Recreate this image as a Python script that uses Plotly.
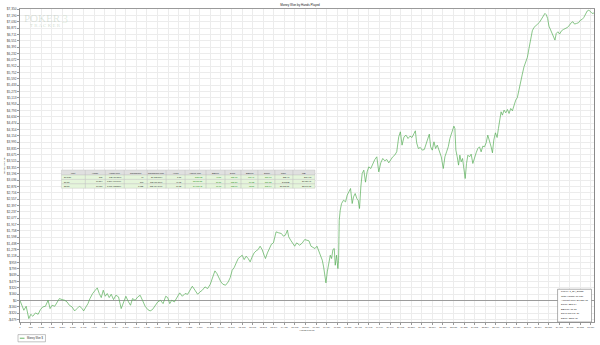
import plotly.graph_objects as go

# ---------------- data ----------------
hands = [1, 119, 210, 337, 482, 590, 699, 844, 990, 1117, 1243, 1389, 1534, 1643, 1751, 1897,
         2024, 2150, 2296, 2441, 2568, 2695, 2840, 2985, 3112, 3239, 3348, 3475, 3602, 3711,
         3819, 3964, 4110, 4218, 4327, 4436, 4545, 4654, 4763, 4871, 4980, 5107, 5234, 5379,
         5524, 5652, 5779, 5924, 6032, 6141, 6286, 6432, 6559, 6685, 6831, 6976, 7103, 7230,
         7375, 7520, 7665, 7810, 7955, 8064, 8173, 8282, 8427, 8572, 8717, 8862, 9007, 9153,
         9280, 9406, 9552, 9697, 9824, 9951, 10096, 10241, 10386, 10531, 10640, 10749, 10858,
         10967, 11075, 11221, 11366, 11475, 11583, 11692, 11801, 11910, 12019, 12128, 12236,
         12345, 12454, 12563, 12672, 12781, 12890, 12998, 13107, 13216, 13325, 13398, 13506,
         13615, 13724, 13833, 13905, 13978, 14123, 14268, 14377, 14486, 14595, 14667, 14776,
         14885, 14994, 15103, 15211, 15266, 15411, 15538, 15665, 15774, 15883, 15992, 16100,
         16209, 16318, 16409, 16500, 16572, 16645, 16699, 16772, 16844, 16935, 17007, 17080,
         17153, 17207, 17280, 17352, 17388, 17425, 17479, 17552, 17660, 17769, 17860, 17950,
         18041, 18132, 18205, 18295, 18386, 18459, 18531, 18604, 18677, 18767, 18858, 18948,
         19039, 19148, 19257, 19366, 19475, 19583, 19692, 19801, 19910, 20019, 20128, 20236,
         20345, 20454, 20563, 20672, 20762, 20853, 20962, 21071, 21180, 21288, 21397, 21506,
         21579, 21651, 21742, 21851, 21960, 22069, 22177, 22268, 22341, 22413, 22504, 22595,
         22685, 22776, 22885, 22994, 23103, 23193, 23284, 23375, 23465, 23538, 23610, 23683,
         23737, 23792, 23864, 23937, 24009, 24082, 24155, 24227, 24300, 24372, 24445, 24535,
         24626, 24717, 24808, 24898, 24989, 25080, 25170, 25261, 25352, 25443, 25533, 25624,
         25715, 25787, 25860, 25950, 26041, 26114, 26186, 26259, 26331, 26422, 26513, 26604,
         26694, 26785, 26876, 26966, 27057, 27148, 27238, 27329, 27419, 27510, 27601, 27692,
         27782, 27873, 27964, 28054, 28145, 28254, 28363, 28472, 28563, 28653, 28726, 28798,
         28871, 28962, 29053, 29125, 29198, 29270, 29361, 29452, 29560, 29669, 29778, 29887,
         29996, 30087, 30177, 30268, 30377, 30486, 30594, 30685, 30776, 30866, 30957, 31048,
         31139, 31229, 31330]

money_won = [0, -160, -244, -143, -454, -345, -395, -311, -345, -227, -160, -143, 8, -202, -118,
             -143, -59, 50, 25, 8, -34, -118, -160, -261, -202, -143, -177, -261, -160, -76,
             50, 177, 261, 320, 177, 76, 261, 109, 177, 76, 160, 25, 135, 93, -202, -34, 109,
             -34, -118, 50, 8, 93, 135, 8, -143, -227, -261, -227, -118, -34, 8, -76, 109, 76,
             -76, 8, -34, 93, 194, 109, 177, 160, 261, 362, 261, 160, 219, 261, 345, 303, 412,
             614, 749, 681, 555, 471, 412, 387, 471, 580, 765, 833, 950, 1060, 1102, 1144,
             1034, 1119, 1060, 976, 1102, 1203, 1253, 1287, 1371, 1287, 1144, 1060, 1203,
             1312, 1421, 1455, 1607, 1733, 1708, 1691, 1624, 1649, 1775, 1607, 1522, 1438,
             1371, 1455, 1421, 1396, 1455, 1539, 1522, 1505, 1371, 1337, 1312, 1371, 1228,
             1102, 1018, 849, 597, 446, 723, 933, 1144, 1060, 1287, 1312, 891, 1144, 807,
             1018, 2027, 2279, 2447, 2531, 2489, 2658, 2742, 2826, 2447, 2616, 2700, 2573,
             2531, 2321, 2868, 3204, 3288, 2986, 3246, 3372, 3330, 3457, 3557, 3625, 3246,
             3473, 3583, 3524, 3557, 3473, 3557, 3625, 3667, 3751, 4129, 4255, 3919, 4129,
             4171, 4087, 4146, 4112, 4213, 4281, 3978, 3835, 3860, 3793, 3810, 3961, 4129,
             4197, 3877, 3793, 4003, 3835, 3919, 3751, 3625, 3330, 3625, 3751, 3877, 4087,
             4213, 4298, 4399, 4340, 3793, 3625, 3415, 3667, 3499, 3583, 3372, 3078, 3457,
             3667, 3625, 3692, 3457, 3625, 3726, 3835, 3877, 3751, 3894, 3877, 3978, 4171,
             4045, 3877, 3726, 4045, 4230, 4112, 4340, 4592, 4760, 4676, 4802, 4735, 4819,
             4718, 4844, 4786, 4953, 5054, 5122, 5349, 5559, 5710, 5895, 6022, 6131, 6358,
             6636, 6804, 6888, 6938, 6972, 7022, 7115, 7199, 7241, 7207, 7115, 6921, 6821,
             6753, 6669, 6568, 6736, 6778, 6720, 6804, 6838, 6863, 6888, 6947, 7006, 7031,
             6972, 6989, 7006, 7073, 7090, 7140, 7241, 7300, 7325, 7275, 7241, 7250]

x_tick_step = 577
x_tick_count = 55
y_tick_top = 7350
y_tick_divisions = 46

table_headers = ["Limit", "Hands", "Hands Won", "Showdowns", "Showdowns Won", "Hours",
                 "Amount Won", "BB/100", "$/100", "BB/hour", "$/hour", "Rake", "MBI"]
table_rows = [
    ["$0.5 NL", "836", "138 (16.51%)", "40", "21 (52.50%)", "3.15", "$181.85", "43.51",
     "$21.75", "115.46", "$57.73", "$21.40", "$164.90"],
    ["$1 NL", "10,864", "1,864 (17.16%)", "596", "318 (53.36%)", "40.12", "$2,375.85", "21.87",
     "$21.87", "59.22", "$59.22", "$412.85", "$1,750.40"],
    ["$2 NL", "19,630", "3,706 (18.88%)", "1,088", "589 (54.14%)", "71.38", "$4,692.48", "11.95",
     "$23.90", "32.87", "$65.74", "$1,105.30", "$2,347.75"],
]
green_cols = {6, 7, 8, 9, 10}

stats_lines = ["Player: 1_B4_Dra55", "Total Hands: 31,330", "Amount Won: $7,250.18",
               "$/100: $23.14", "BB/100: 11.57", "Days Played: 36", "$/Day: $201.39"]

# ---------------- layout helpers (pixel -> paper) ----------------
PL, PR, PT, PB = 19.5, 594.5, 9.3, 321.7
W, H = 600, 345


def px(x):
    return (x - PL) / (PR - PL)


def py(y):
    return (PB - y) / (PB - PT)


GREEN = "#56ae56"
FONT = "Liberation Sans, Arial, sans-serif"

fig = go.Figure()
fig.add_trace(go.Scatter(x=hands, y=money_won, mode="lines",
                         line=dict(color=GREEN, width=0.7), name="Money Won $",
                         showlegend=False, hoverinfo="skip"))

xt = [1 + x_tick_step * k for k in range(x_tick_count)]
xtt = [f"{v:,}" for v in xt]
ystep = y_tick_top / y_tick_divisions
yt = [k * ystep for k in range(-3, y_tick_divisions + 1)]


def money_fmt(v):
    s = f"${abs(v):,.0f}"
    return ("-" + s) if v < -0.5 else s


ytt = [money_fmt(v) for v in yt]

shapes = []
annotations = []

# ---- table ----
col_edges = [61, 85, 105, 124, 147, 166, 185, 206, 225, 241, 258, 275, 293, 315]
row_edges = [170, 175, 179.4, 183.8, 188.2]
for r in range(4):
    for c in range(len(table_headers)):
        x0, x1 = col_edges[c], col_edges[c + 1]
        y0, y1 = row_edges[r], row_edges[r + 1]
        fill = "#e0e0e0" if r == 0 else "#e5f5db"
        shapes.append(dict(type="rect", xref="paper", yref="paper",
                           x0=px(x0), x1=px(x1), y0=py(y1), y1=py(y0),
                           fillcolor=fill, line=dict(color="#bdbdbd", width=0.4), layer="above"))
        ym = py((y0 + y1) / 2)
        if r == 0:
            annotations.append(dict(x=px((x0 + x1) / 2), y=ym, xref="paper", yref="paper",
                                    text=table_headers[c], showarrow=False, xanchor="center",
                                    yanchor="middle", font=dict(size=2.1, color="#222", family=FONT)))
        else:
            txt = table_rows[r - 1][c]
            col = "#1f8f1f" if c in green_cols else "#222"
            if c == 0:
                annotations.append(dict(x=px(x0 + 0.8), y=ym, xref="paper", yref="paper",
                                        text=txt, showarrow=False, xanchor="left", yanchor="middle",
                                        font=dict(size=2.1, color=col, family=FONT)))
            else:
                annotations.append(dict(x=px(x1 - 0.8), y=ym, xref="paper", yref="paper",
                                        text=txt, showarrow=False, xanchor="right", yanchor="middle",
                                        font=dict(size=2.1, color=col, family=FONT)))

# ---- stats box ----
shapes.append(dict(type="rect", xref="paper", yref="paper", x0=px(558), x1=px(592),
                   y0=py(321.7), y1=py(289), fillcolor="white",
                   line=dict(color="#7a7a7a", width=0.6), layer="above"))
for i, t in enumerate(stats_lines):
    annotations.append(dict(x=px(559.5), y=py(291.5 + 4.4 * i), xref="paper", yref="paper",
                            text=t, showarrow=False, xanchor="left", yanchor="middle",
                            font=dict(size=2.5, color="#222", family=FONT)))

# ---- legend ----
shapes.append(dict(type="rect", xref="paper", yref="paper", x0=px(17.5), x1=px(45),
                   y0=py(341.5), y1=py(334.3), fillcolor="white",
                   line=dict(color="#9a9a9a", width=0.6)))
shapes.append(dict(type="line", xref="paper", yref="paper", x0=px(19.3), x1=px(24),
                   y0=py(337.9), y1=py(337.9), line=dict(color=GREEN, width=0.9)))
annotations.append(dict(x=px(24.8), y=py(337.9), xref="paper", yref="paper",
                        text="Money Won $", showarrow=False, xanchor="left", yanchor="middle",
                        font=dict(size=2.6, color="#333", family=FONT)))

# ---- watermark ----
wm = "rgba(150,175,150,0.30)"
annotations.append(dict(x=px(42.5), y=py(18), xref="paper", yref="paper", text="POKER",
                        showarrow=False, xanchor="center", yanchor="middle",
                        font=dict(size=11, color=wm, family="Liberation Serif, serif")))
annotations.append(dict(x=px(65), y=py(19.5), xref="paper", yref="paper", text="3",
                        showarrow=False, xanchor="center", yanchor="middle",
                        font=dict(size=12, color="rgba(150,195,150,0.28)", family="Liberation Serif, serif")))
annotations.append(dict(x=px(45), y=py(26), xref="paper", yref="paper", text="T R A C K E R",
                        showarrow=False, xanchor="center", yanchor="middle",
                        font=dict(size=5, color="rgba(150,175,150,0.45)", family="Liberation Serif, serif")))

fig.update_layout(
    width=W, height=H,
    margin=dict(l=PL, r=W - PR, t=PT, b=H - PB, pad=0, autoexpand=False),
    paper_bgcolor="white", plot_bgcolor="white",
    title=dict(text="Money Won by Hands Played", x=0.5, xref="container", xanchor="center",
               y=1 - 5 / H, yref="container", yanchor="middle",
               font=dict(size=3, color="#222", family=FONT)),
    font=dict(family=FONT),
    shapes=shapes, annotations=annotations,
    xaxis=dict(range=[1, 31330], tickmode="array", tickvals=xt, ticktext=xtt, tickangle=0,
               tickfont=dict(size=2.3, color="#444"), ticks="outside", ticklen=2,
               tickcolor="#999", tickwidth=0.6, showgrid=True, gridcolor="#ececec", gridwidth=0.8,
               showline=True, linecolor="#9a9a9a", linewidth=0.8, mirror=True, zeroline=False,
               automargin=False,
               title=dict(text="Hands Played", font=dict(size=2.4, color="#333"), standoff=1.5)),
    yaxis=dict(range=[-540, 7352], tickmode="array", tickvals=yt, ticktext=ytt,
               tickfont=dict(size=3.2, color="#444"), ticks="outside", ticklen=2,
               tickcolor="#999", tickwidth=0.6, showgrid=True, gridcolor="#ececec", gridwidth=0.8,
               showline=True, linecolor="#8a8a8a", linewidth=0.8, mirror=True,
               zeroline=True, zerolinecolor="#9c9c9c", zerolinewidth=1, automargin=False,
               title=dict(text="Money Won ($)", font=dict(size=2.4, color="#333"), standoff=1)),
)

fig.write_html("out.html")
